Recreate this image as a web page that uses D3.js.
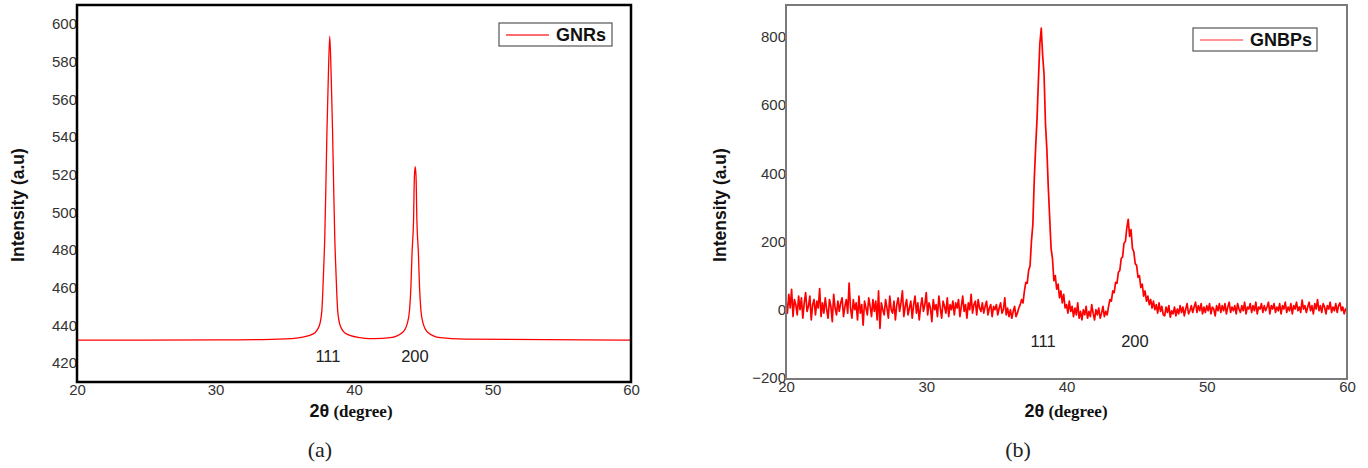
<!DOCTYPE html>
<html><head><meta charset="utf-8">
<script src="https://cdn.jsdelivr.net/npm/d3@7"></script>
<style>body{margin:0;background:#fff}svg{display:block}</style>
</head><body>
<svg id="c" width="1368" height="468"></svg>
<script>
// ---------- DATA ----------
// (a) GNRs : smooth XRD profile
const gnrAngle = [20, 30, 34, 35.85, 37.05, 37.5, 37.68, 37.8, 37.89, 37.97, 38.05, 38.14, 38.25,
  38.36, 38.45, 38.53, 38.61, 38.7, 38.82, 39.0, 39.45, 40.65, 41.5, 42.62, 43.52, 43.85, 44.01,
  44.11, 44.19, 44.3, 44.36, 44.42, 44.48, 44.54, 44.65, 44.73, 44.83, 44.99, 45.32, 46.22, 48, 60];
const gnrIntensity = [432.2, 432.3, 432.6, 433.3, 435.5, 440, 448, 468, 487, 514, 544, 570, 593.5,
  570, 544, 514, 487, 468, 448, 440, 435.5, 433.3, 433.0, 433.5, 436.4, 441.1, 448.2,
  460.6, 478.3, 495.9, 518.9, 524.2, 518.9, 495.9, 478.3, 460.6, 448.2, 441.1, 436.4, 433.5, 432.7, 432.2];

// (b) GNBPs : scan from 20 to 60 degrees, 0.1 degree steps, intensities
const gnbpScanStart = 20, gnbpScanStep = 0.1;
const gnbpIntensity = [
  25, -10, 45, 5, 60, -20, 30, 15, -15, 40,
  0, 35, -25, 20, 50, -5, 10, 40, -30, 15,
  30, -15, 25, 5, 62, -20, 20, -10, 35, 0,
  -25, 30, 10, -35, 45, 5, -15, 25, -5, 20,
  35, -20, 10, 30, -10, 78, 5, -25, 30, 0,
  20, -30, 40, -10, 15, -45, 25, 5, -15, 35,
  10, -20, 30, -5, 25, -30, 55, -55, 20, 0,
  -15, 30, 5, -25, 40, 0, -10, 25, -30, 15,
  35, -5, 20, 55, -20, 10, 30, -15, 5, 25,
  -25, 15, 40, -10, 20, -30, 10, 35, -5, 15,
  50, -15, 20, 5, -35, 30, 0, 15, -20, 40,
  5, -25, 25, 10, -10, 35, -20, 15, 0, 25,
  -15, 20, 5, 30, -20, 10, 40, -5, 15, -25,
  20, 0, 45, -10, 15, 25, -15, 30, 5, -5,
  20, -10, 10, 25, -15, 5, 15, -20, 10, 0,
  15, -15, 5, 20, -10, 0, 35, -15, 5, -20,
  0, -25, -5, 10, -20, -10, 5, 15, 30, 20,
  55, 80, 78, 115, 128, 200, 250, 380, 475, 560,
  675, 780, 825, 745, 690, 545, 470, 360, 270, 180,
  150, 85, 100, 60, 75, 35, 55, 20, 45, 5,
  15, -10, 25, -5, 10, -20, 5, -15, 20, -25,
  -5, -30, 0, -15, 10, -25, -5, -20, 15, -10,
  -30, 0, -15, 5, -25, -10, 10, -20, -5, -15,
  10, 30, 25, 55, 50, 80, 78, 110, 115, 150,
  155, 195, 200, 240, 265, 215, 235, 180, 170, 135,
  130, 95, 100, 65, 75, 40, 55, 25, 40, 15,
  30, 5, 25, 0, 15, -10, 20, -5, 10, -15,
  -18, 8, -8, 12, -22, -3, -12, 8, -18, 2,
  -12, 12, -8, 8, -18, 2, 18, -12, -3, 12,
  -8, 8, 22, -8, 12, -3, 18, -12, 8, -8,
  12, -3, 18, -12, 8, 2, -18, 12, -3, 18,
  -8, 12, -3, 18, -12, 8, 22, -8, 8, -3,
  12, -12, 18, 2, -8, 12, -3, 22, -12, 8,
  2, 18, -8, 12, -3, 22, -12, 8, 2, 18,
  -8, 12, -3, 8, 22, -12, 12, 2, 18, -8,
  8, -3, 18, -12, 12, 2, 22, -8, 8, -3,
  18, -12, 12, 2, 22, -3, 8, -8, 28, 2,
  12, -8, 8, 22, -3, 12, -12, 18, 2, 30,
  -3, 12, -8, 18, 8, -12, 12, 2, 22, -8,
  8, -3, 18, -8, 12, 20, -3, 8, -12, 2,
  5];
const gnbpAngle = gnbpIntensity.map((_, i) => +(gnbpScanStart + i * gnbpScanStep).toFixed(2));

// ticks, labels
const xTickValues = [20, 30, 40, 50, 60];
const aYTickValues = [420, 440, 460, 480, 500, 520, 540, 560, 580, 600];
const bYTickValues = [-200, 0, 200, 400, 600, 800];
const peakLabels = ["111", "200"];
const aPeakLabelAngles = [38.12, 44.4];
const bPeakLabelAngles = [38.33, 44.88];
const legendA = "GNRs", legendB = "GNBPs";
const yTitle = "Intensity (a.u)";
const captions = ["(a)", "(b)"];

// ---------- DRAW ----------
const svg = d3.select("#c");
const SANS = "'Liberation Sans', Arial, sans-serif";
const SERIF = "'Liberation Serif', 'DejaVu Serif', serif";

function panel(o) {
  const x = d3.scaleLinear().domain([20, 60]).range([o.left, o.right]);
  const y = d3.scaleLinear().domain(o.yDomain).range([o.bottom, o.top]);
  const g = svg.append("g");

  // data line
  const line = d3.line().x(d => x(d[0])).y(d => y(d[1])).curve(o.curve);
  g.append("path").datum(d3.zip(o.angle, o.intensity))
    .attr("d", line).attr("fill", "none").attr("stroke", "#ff0000")
    .attr("stroke-width", o.lw).attr("stroke-linejoin", "round");

  // axes
  const xa = g.append("g").attr("transform", `translate(0,${o.bottom})`)
    .call(d3.axisBottom(x).tickValues(xTickValues).tickSize(0).tickPadding(2).tickFormat(d3.format("d")));
  const ya = g.append("g").attr("transform", `translate(${o.left},0)`)
    .call(d3.axisLeft(y).tickValues(o.yTicks).tickSize(0).tickPadding(0).tickFormat(d3.format("d")));
  [xa, ya].forEach(a => {
    a.select(".domain").remove();
    a.selectAll("text").attr("font-family", SANS).attr("font-size", 15).attr("fill", "#333");
  });

  // frame
  g.append("rect").attr("x", o.left).attr("y", o.top)
    .attr("width", o.right - o.left).attr("height", o.bottom - o.top)
    .attr("fill", "none").attr("stroke", o.frame).attr("stroke-width", o.fw);

  // peak labels
  g.selectAll(".pk").data(peakLabels).join("text")
    .attr("x", (d, i) => x(o.peakAngles[i])).attr("y", y(o.peakLabelY))
    .attr("text-anchor", "middle").attr("font-family", SANS).attr("font-size", 16.5).attr("fill", "#222")
    .text(d => d);

  // legend
  const lg = g.append("g");
  lg.append("rect").attr("x", o.leg[0]).attr("y", o.leg[1]).attr("width", o.leg[2]).attr("height", o.leg[3])
    .attr("fill", "#fff").attr("stroke", "#555").attr("stroke-width", 1.2);
  lg.append("line").attr("x1", o.leg[0] + 7).attr("x2", o.leg[0] + 50)
    .attr("y1", o.leg[1] + o.leg[3] / 2 + 0.5).attr("y2", o.leg[1] + o.leg[3] / 2 + 0.5)
    .attr("stroke", o.legColor).attr("stroke-width", 1.5);
  lg.append("text").attr("x", o.leg[0] + 57).attr("y", o.leg[1] + o.leg[3] / 2 + 6.5)
    .attr("font-family", SANS).attr("font-weight", "bold").attr("font-size", 18).attr("fill", "#111")
    .text(o.legend);

  // y title
  g.append("text").attr("transform", `translate(${o.yTitleX},205) rotate(-90)`)
    .attr("text-anchor", "middle").attr("dy", "0.35em")
    .attr("font-family", SANS).attr("font-weight", "bold").attr("font-size", 17.5).attr("fill", "#111")
    .text(yTitle);

  // x title
  const xt = g.append("text").attr("x", o.xTitleX).attr("y", 417).attr("text-anchor", "middle").attr("fill", "#111");
  xt.append("tspan").attr("font-family", SANS).attr("font-weight", "bold").attr("font-size", 18).text("2θ");
  xt.append("tspan").attr("font-family", SERIF).attr("font-weight", "bold").attr("font-size", 17).text(" (degree)");

  // caption
  g.append("text").attr("x", o.capX).attr("y", 457).attr("text-anchor", "middle")
    .attr("font-family", SERIF).attr("font-size", 22).attr("fill", "#222").text(o.caption);
}

panel({
  left: 77, right: 631, top: 5, bottom: 382, yDomain: [410, 610], yTicks: aYTickValues,
  angle: gnrAngle, intensity: gnrIntensity, curve: d3.curveMonotoneX, lw: 1.3,
  frame: "#000", fw: 2.5, peakAngles: aPeakLabelAngles, peakLabelY: 420.6,
  leg: [499, 23, 113, 23], legColor: "#ff3b3b", legend: legendA,
  yTitleX: 18, xTitleX: 351, capX: 320, caption: captions[0]
});
panel({
  left: 786, right: 1347, top: 5, bottom: 379, yDomain: [-203, 893], yTicks: bYTickValues,
  angle: gnbpAngle, intensity: gnbpIntensity, curve: d3.curveLinear, lw: 1.7,
  frame: "#7a7a7a", fw: 2, peakAngles: bPeakLabelAngles, peakLabelY: -109,
  leg: [1193, 28, 124, 23], legColor: "#ff7070", legend: legendB,
  yTitleX: 720, xTitleX: 1066, capX: 1018, caption: captions[1]
});
</script>
</body></html>
